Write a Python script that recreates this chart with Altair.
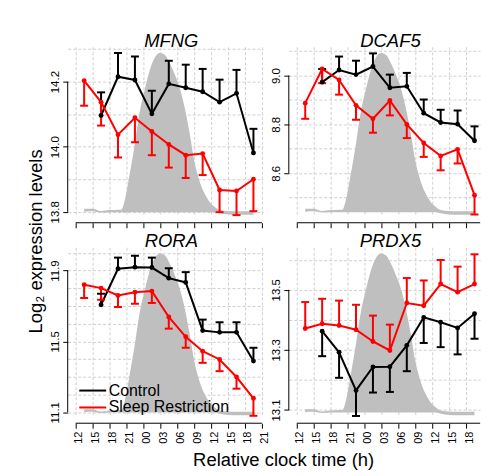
import json
import altair as alt
import pandas as pd

FONT = "Liberation Sans"

# ---------------- data ----------------
GENES = ["MFNG", "DCAF5", "RORA", "PRDX5"]
GROUPS = ["Control", "Sleep Restriction"]
GROUP_COLORS = ["#000000", "#ff0000"]

# hours after 12:00 (first tick = 12:00)
CONTROL_HOURS = [4.5, 7.5, 10.5, 13.5, 16.5, 19.5, 22.5, 25.5, 28.5, 31.5]
SR_HOURS = [1.5, 4.5, 7.5, 10.5, 13.5, 16.5, 19.5, 22.5, 25.5, 28.5, 31.5]

MFNG_CONTROL = [14.096, 14.215, 14.205, 14.101, 14.193, 14.181, 14.169, 14.137, 14.164, 13.981]
MFNG_CONTROL_ERR = [14.167, 14.288, 14.277, 14.172, 14.264, 14.252, 14.239, 14.206, 14.236, 14.055]
MFNG_SR = [14.203, 14.137, 14.037, 14.089, 14.047, 14.007, 13.974, 13.979, 13.867, 13.864, 13.900]
MFNG_SR_ERR = [14.126, 14.065, 13.967, 14.014, 13.974, 13.936, 13.904, 13.913, 13.799, 13.790, 13.802]

DCAF5_CONTROL = [8.973, 9.023, 9.004, 9.037, 8.950, 8.956, 8.846, 8.808, 8.801, 8.733]
DCAF5_CONTROL_ERR = [9.027, 9.078, 9.061, 9.091, 9.004, 9.011, 8.902, 8.860, 8.857, 8.792]
DCAF5_SR = [8.887, 9.027, 8.982, 8.878, 8.823, 8.898, 8.800, 8.724, 8.671, 8.698, 8.510]
DCAF5_SR_ERR = [8.823, 8.969, 8.922, 8.819, 8.766, 8.837, 8.744, 8.667, 8.612, 8.640, 8.431]

RORA_CONTROL = [11.707, 11.910, 11.919, 11.917, 11.857, 11.833, 11.561, 11.551, 11.551, 11.389]
RORA_CONTROL_ERR = [11.769, 11.973, 11.983, 11.973, 11.913, 11.891, 11.623, 11.608, 11.608, 11.464]
RORA_SR = [11.820, 11.801, 11.759, 11.778, 11.784, 11.638, 11.526, 11.445, 11.398, 11.299, 11.179]
RORA_SR_ERR = [11.745, 11.735, 11.694, 11.713, 11.717, 11.572, 11.464, 11.379, 11.332, 11.233, 11.080]

PRDX5_CONTROL = [13.362, 13.292, 13.165, 13.243, 13.244, 13.315, 13.408, 13.392, 13.373, 13.420]
PRDX5_CONTROL_ERR = [13.279, 13.207, 13.080, 13.158, 13.160, 13.229, 13.323, 13.309, 13.285, 13.337]
PRDX5_SR = [13.371, 13.387, 13.381, 13.367, 13.328, 13.298, 13.456, 13.447, 13.519, 13.492, 13.519]
PRDX5_SR_ERR = [13.459, 13.470, 13.464, 13.450, 13.414, 13.384, 13.539, 13.531, 13.599, 13.577, 13.618]

SERIES = {
    "MFNG": (MFNG_CONTROL, MFNG_CONTROL_ERR, MFNG_SR, MFNG_SR_ERR),
    "DCAF5": (DCAF5_CONTROL, DCAF5_CONTROL_ERR, DCAF5_SR, DCAF5_SR_ERR),
    "RORA": (RORA_CONTROL, RORA_CONTROL_ERR, RORA_SR, RORA_SR_ERR),
    "PRDX5": (PRDX5_CONTROL, PRDX5_CONTROL_ERR, PRDX5_SR, PRDX5_SR_ERR),
}

# grey background profile (relative units, peak = 1)
MEL_HOURS = [1.5, 3.0, 4.5, 6.0, 7.5, 8.1, 8.7, 9.6, 10.5, 11.3, 12.2, 13.1, 14.0, 14.9, 15.8,
             16.6, 17.5, 18.4, 19.3, 20.2, 21.0, 21.9, 22.8, 23.7, 24.6, 25.5, 27.0, 28.5, 30.0, 31.5]
MEL_UPPER = [0.009, 0.009, -0.006, 0.000, 0.003, 0.003, 0.063, 0.234, 0.424, 0.614, 0.760, 0.886, 0.968, 0.998, 0.987,
             0.939, 0.867, 0.780, 0.654, 0.487, 0.316, 0.190, 0.108, 0.053, 0.021, 0.000, -0.006, -0.008, -0.008, -0.006]
MEL_LOWER = [-0.010, -0.008, -0.016, -0.013, -0.013, -0.013, -0.013, -0.013, -0.013, -0.013, -0.013, -0.013, -0.013, -0.013, -0.013,
             -0.013, -0.013, -0.013, -0.013, -0.013, -0.013, -0.013, -0.013, -0.013, -0.013, -0.020, -0.028, -0.030, -0.030, -0.030]

X_TICKS = [0, 3, 6, 9, 12, 15, 18, 21, 24, 27, 30, 33]
X_TICK_LABELS = ["12", "15", "18", "21", "00", "03", "06", "09", "12", "15", "18", "21"]

Y_GRID = {
    "MFNG": [13.8, 13.9, 14.0, 14.1, 14.2, 14.3],
    "DCAF5": [8.5, 8.6, 8.7, 8.8, 8.9, 9.0, 9.1],
    "RORA": [11.1, 11.2, 11.3, 11.4, 11.5, 11.6, 11.7, 11.8, 11.9, 12.0],
    "PRDX5": [13.1, 13.2, 13.3, 13.4, 13.5, 13.6],
}
Y_LABELED = {
    "MFNG": [13.8, 14.0, 14.2],
    "DCAF5": [8.6, 8.8, 9.0],
    "RORA": [11.1, 11.5, 11.9],
    "PRDX5": [13.1, 13.3, 13.5],
}
Y_DOMAIN = {
    "MFNG": [13.787, 14.307],
    "DCAF5": [8.4245, 9.118],
    "RORA": [11.0758, 12.0315],
    "PRDX5": [13.0781, 13.6415],
}
MEL_DOMAIN = [-0.038, 1.038]

# ---------------- layout / style ----------------
PX_PER_HOUR = 17 / 3
X_MIN = -1.41
X_MAX = {0: 33.19, 1: 32.5}
PANEL_H = 170
AXIS_GAP = 6.7
GRID_COLOR = "#d0d0d0"
AREA_COLOR = "#bfbfbf"

rows = []
for g in GENES:
    c, ce, s, se = SERIES[g]
    for h, m, e in zip(CONTROL_HOURS, c, ce):
        rows.append({"gene": g, "group": "Control", "hour": h, "mean": m, "err": e})
    for h, m, e in zip(SR_HOURS, s, se):
        rows.append({"gene": g, "group": "Sleep Restriction", "hour": h, "mean": m, "err": e})
expr_df = pd.DataFrame(rows)
mel_df = pd.DataFrame({"hour": MEL_HOURS, "upper": MEL_UPPER, "lower": MEL_LOWER})

label_array = "[" + ",".join("'%s'" % s for s in X_TICK_LABELS) + "]"


def panel(gene, row, col):
    xmax = X_MAX[col]
    width = (xmax - X_MIN) * PX_PER_HOUR
    xscale = alt.Scale(domain=[X_MIN, xmax], nice=False, zero=False)
    xa = dict(values=X_TICKS, grid=True, gridColor=GRID_COLOR, gridDash=[3, 2], gridWidth=1,
              domain=False, offset=AXIS_GAP, tickSize=5, tickColor="black", tickWidth=1,
              labelOverlap=False, labelFlush=False)
    if row == 1:
        xa.update(labels=True, labelExpr=label_array + "[round(datum.value/3)]",
                  labelAngle=270, labelAlign="right", labelBaseline="middle",
                  labelPadding=3, labelOffset=3, labelFontSize=11, labelFont=FONT, labelColor="black")
    else:
        xa.update(labels=False)
    if row == 1 and col == 0:
        xa.update(title="Relative clock time (h)", titleX=216.3, titleY=42.7, titleAngle=0,
                  titleAlign="center", titleBaseline="alphabetic", titleFontSize=18.5,
                  titleFont=FONT, titleFontWeight="normal", titleColor="black")
    else:
        xa.update(title=None)
    xaxis = alt.Axis(**xa)

    def xenc(field):
        return alt.X(field + ":Q", scale=xscale, axis=xaxis)

    labeled = Y_LABELED[gene]
    test = "indexof(%s, datum.value) >= 0" % json.dumps(labeled)
    ya = dict(values=Y_GRID[gene], orient="left", domain=False, grid=True, gridColor=GRID_COLOR,
              gridDash=[3, 2], gridWidth=1, tickSize=5, tickColor="black", tickWidth=1,
              tickOpacity={"condition": {"test": test, "value": 1}, "value": 0},
              labelExpr=test + " ? format(datum.value, '.1f') : ''",
              labelAngle=270, labelAlign="center", labelBaseline="alphabetic", labelPadding=4.7,
              labelFontSize=11.5, labelFont=FONT, labelColor="black", labelOverlap=False, labelFlush=False)
    if row == 0 and col == 0:
        ya.update(title="Log\u2082 expression levels", titleX=-26.7, titleY=195, titleAngle=270,
                  titleAlign="center", titleBaseline="alphabetic", titleFontSize=18.5,
                  titleFont=FONT, titleFontWeight="normal", titleColor="black")
    else:
        ya.update(title=None)
    yaxis = alt.Axis(**ya)
    yscale = alt.Scale(domain=Y_DOMAIN[gene], nice=False, zero=False)

    def yenc(field):
        return alt.Y(field + ":Q", scale=yscale, axis=yaxis)

    has_legend = (row == 1 and col == 0)
    cscale = alt.Scale(domain=GROUPS, range=GROUP_COLORS)

    def cenc(main=False):
        if has_legend:
            if main:
                return alt.Color("group:N", scale=cscale, legend=alt.Legend(
                    orient="none", legendX=16.6, legendY=135.4, title=None,
                    symbolType="M-1.8,0L1.8,0", symbolSize=225, symbolStrokeWidth=2,
                    labelFontSize=16, labelFont=FONT, labelColor="black", labelOffset=7.5,
                    rowPadding=0, padding=0))
            return alt.Color("group:N", scale=cscale)
        return alt.Color("group:N", scale=cscale, legend=None)

    d = expr_df[expr_df.gene == gene]

    area = alt.Chart(mel_df).mark_area(color=AREA_COLOR, opacity=1, interpolate="monotone").encode(
        x=xenc("hour"),
        y=alt.Y("upper:Q", scale=alt.Scale(domain=MEL_DOMAIN, nice=False, zero=False), axis=None),
        y2="lower:Q",
    )
    yline = alt.Chart(pd.DataFrame({"lo": [labeled[0]], "hi": [labeled[-1]]})).mark_rule(
        color="black", strokeWidth=1).encode(x=alt.value(0), y=yenc("lo"), y2="hi:Q")
    xline = alt.Chart(pd.DataFrame({"x0": [X_TICKS[0]], "x1": [min(X_TICKS[-1], xmax)]})).mark_rule(
        color="black", strokeWidth=1).encode(x=xenc("x0"), x2="x1:Q", y=alt.value(PANEL_H + AXIS_GAP))
    bars = alt.Chart(d).mark_rule(strokeWidth=2).encode(
        x=xenc("hour"), y=yenc("mean"), y2="err:Q", color=cenc())
    caps = alt.Chart(d).mark_tick(orient="horizontal", size=8, thickness=2, opacity=1).encode(
        x=xenc("hour"), y=yenc("err"), color=cenc())
    lines = alt.Chart(d).mark_line(strokeWidth=2).encode(
        x=xenc("hour"), y=yenc("mean"), color=cenc(True))
    pts = alt.Chart(d).mark_circle(size=24, opacity=1).encode(
        x=xenc("hour"), y=yenc("mean"), color=cenc())

    inner = alt.layer(lines, yline, xline, bars, caps, pts)
    return alt.layer(area, inner).resolve_scale(y="independent").properties(
        width=width, height=PANEL_H,
        title=alt.TitleParams(gene, font=FONT, fontSize=18.5, fontStyle="italic", fontWeight="normal",
                              color="black", anchor="middle", frame="group", baseline="alphabetic",
                              offset=-18.5, dx=6),
    )


panels = [panel("MFNG", 0, 0), panel("DCAF5", 0, 1), panel("RORA", 1, 0), panel("PRDX5", 1, 1)]

chart = alt.concat(*panels, columns=2, spacing={"row": 31.3, "column": 25}, bounds="flush").resolve_scale(
    color="independent"
).properties(
    padding={"left": 26, "top": 31, "right": 0, "bottom": 0},
    background="white",
).configure(font=FONT).configure_view(stroke=None)

chart.save("out.html", embed_options={"renderer": "svg", "actions": False})
